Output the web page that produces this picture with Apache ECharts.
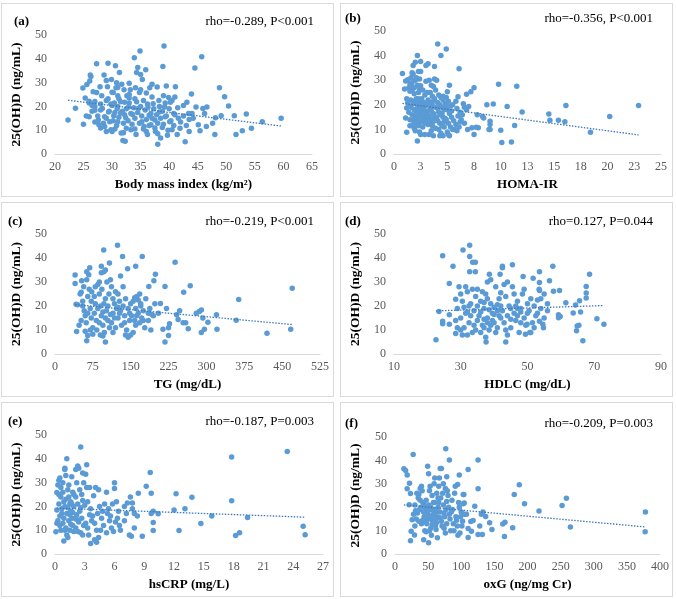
<!DOCTYPE html>
<html><head><meta charset="utf-8">
<script src="https://cdn.jsdelivr.net/npm/echarts@6/dist/echarts.min.js"></script>
<style>
html,body{margin:0;padding:0;background:#fff;width:676px;height:599px;overflow:hidden;}
.p{position:absolute;border:1px solid #d9d9d9;box-sizing:border-box;background:#fff;}
</style></head><body>
<div id="pa" class="p" style="left:1px;top:3px;width:333px;height:194px"></div>
<div id="pb" class="p" style="left:340px;top:3px;width:333px;height:194px"></div>
<div id="pc" class="p" style="left:1px;top:202px;width:333px;height:195px"></div>
<div id="pd" class="p" style="left:340px;top:202px;width:333px;height:195px"></div>
<div id="pe" class="p" style="left:1px;top:402px;width:333px;height:195px"></div>
<div id="pf" class="p" style="left:340px;top:402px;width:333px;height:195px"></div>
<script>
// ---- data: [x, 25(OH)D ng/mL] ----
var bmiPoints = [[22.3,14.3],[23.6,19.3],[25.0,12.5],[24.9,27.8],[25.3,23.6],[25.6,29.2],[26.0,22.2],[26.0,15.7],[26.3,32.6],[26.2,33.2],[26.1,30.7],[26.5,20.4],[26.7,26.2],[27.0,22.1],[27.3,37.9],[27.0,18.4],[27.3,25.9],[27.6,14.3],[27.7,12.3],[27.9,28.3],[28.2,24.5],[28.3,19.1],[28.6,33.2],[28.7,15.7],[28.7,11.6],[29.0,30.9],[29.2,28.3],[29.3,38.1],[29.3,23.2],[29.4,17.7],[29.6,13.6],[29.8,10.2],[29.9,31.3],[30.0,20.4],[30.0,9.5],[30.2,25.9],[30.3,16.1],[30.4,21.5],[30.6,37.1],[30.7,27.9],[30.8,30.0],[30.9,19.1],[31.0,13.6],[31.2,23.2],[31.3,34.3],[31.5,17.3],[31.6,8.9],[31.7,29.3],[31.9,5.7],[32.1,27.0],[32.2,21.8],[32.3,5.4],[32.4,15.3],[32.5,10.9],[32.6,24.5],[32.9,19.8],[33.0,29.7],[33.2,27.0],[33.3,10.2],[33.6,16.6],[33.9,40.5],[34.0,23.2],[34.1,27.9],[34.2,8.2],[34.3,34.3],[34.5,36.4],[34.6,19.1],[34.8,25.9],[34.9,43.3],[35.0,33.4],[35.2,13.6],[35.3,31.3],[35.5,22.5],[35.6,11.6],[35.9,35.4],[36.0,25.6],[36.2,8.2],[36.3,19.8],[36.5,16.3],[36.6,27.9],[36.8,12.3],[37.0,29.3],[37.2,21.1],[37.5,14.3],[37.6,9.5],[37.9,28.2],[38.0,4.1],[38.2,22.5],[38.3,17.7],[38.5,6.8],[38.8,11.2],[38.9,36.8],[39.1,45.4],[39.2,19.8],[39.3,15.7],[39.5,28.6],[39.7,7.9],[39.9,23.8],[40.1,13.6],[40.2,21.8],[40.5,10.2],[40.8,17.0],[41.1,28.3],[41.4,8.2],[41.6,15.0],[41.9,10.9],[42.5,20.4],[42.8,5.2],[43.1,21.8],[43.4,17.0],[43.5,9.5],[43.9,25.2],[44.2,15.0],[44.5,36.1],[44.7,19.8],[45.1,12.3],[45.4,9.8],[45.7,40.9],[45.9,19.1],[46.2,17.0],[46.5,11.6],[46.6,19.8],[47.6,12.9],[48.0,8.2],[48.1,15.3],[48.8,27.9],[49.1,16.1],[49.7,24.1],[50.4,20.2],[51.4,16.1],[51.7,8.2],[52.8,9.8],[53.5,16.8],[54.4,10.9],[56.3,13.6],[59.6,15.0],
[27.5,16],[28,18.5],[28.5,13],[29,15],[29.5,18],[29.8,21],[30.2,14],[30.5,17.5],[30.8,12],[31,20],[31.2,15.5],[31.5,22],[31.8,18],[32,13],[32.2,16.5],[32.5,19],[32.8,14],[33,21.5],[33.3,17],[33.5,12.5],[33.8,19.5],[34,15],[34.3,22],[34.5,17.5],[34.8,13],[35,20],[35.2,16],[35.5,10.5],[35.8,18.5],[36,14.5],[36.2,21],[36.5,12],[36.8,17],[37,15],[37.3,19],[37.5,11],[37.8,16.5],[38,13],[38.3,20],[38.5,15],[38.8,18],[39,12.5],[39.3,21.5],[39.5,16],[39.8,10],[40,19],[40.3,14],[40.5,22.5],[40.8,12],[41,16.5],[41.5,19.5],[42,13.5],[42.5,16],[43,12],[43.5,14.5],[44,17],[30,26],[31,28],[33,25],[35,27],[29,22.5],[28,21],[27,20],[26.5,18],[26,21.5],[25.5,16],[30.5,10.5],[32,9],[34,10.5],[36,9.5],[38,8.5],[28,11],[29,9.5],[27,13.5],[39,24.5],[41,24],[37,24],[33,23.5],[31,24.5]];
var homaPoints = [[1.0,26.4],[1.1,29.7],[1.2,18.7],[1.1,14.7],[1.2,8.9],[0.8,32.7],[1.3,30.2],[1.4,27],[1.5,25.5],[1.3,21],[1.4,19.5],[1.5,14],[1.4,17],[1.2,22.5],[1.5,28.5],[1.5,11.5],
[1.6,31],[1.7,29],[1.8,32.5],[1.8,36],[2.0,37.3],[1.7,26],[1.9,24.5],[1.6,22],[1.8,20.5],[1.9,18],[1.7,16],[2.0,15],[1.8,12],[1.9,10.5],[2.0,9.5],[1.6,27.5],[1.7,33],[2.0,30],[1.9,27],[2.0,21.5],[1.8,14],[1.6,19],
[2.2,40],[2.5,37.6],[2.2,5.3],[2.3,33.6],[2.5,33.6],[2.1,31],[2.2,28],[2.4,26.5],[2.3,25],[2.1,22.5],[2.4,21.5],[2.2,20],[2.5,19],[2.3,17.5],[2.1,16.5],[2.4,15.5],[2.2,14],[2.5,13],[2.3,11.5],[2.4,9],[2.5,8],[2.1,12.5],[2.3,22.5],[2.5,27.8],[2.2,18.5],[2.4,30.5],
[3.0,36],[3.2,36.7],[3.0,29.6],[3.3,30],[2.7,26],[2.9,24],[2.6,22.5],[2.8,21],[3.0,20],[2.7,18],[2.9,17],[3.1,16],[2.6,15],[2.8,14],[3.0,13],[3.2,12],[2.7,11],[2.9,8],[3.1,17.5],[2.8,19],[3.2,22],[3.1,25],[2.6,16.5],[3.0,15.5],[2.9,12.5],[3.2,14.5],[2.7,20.5],
[3.8,35.6],[3.5,28],[3.7,27.5],[3.4,25],[3.6,23.5],[3.8,22.5],[3.4,21],[3.6,19.5],[3.9,19],[3.5,17.5],[3.7,16.5],[3.3,15.5],[3.5,14.5],[3.8,13.5],[3.4,12.5],[3.6,11.5],[3.9,10.5],[3.5,9.5],[3.7,7.5],[3.3,8],[4.0,30],[3.8,30.5],[3.9,26],[3.4,18.5],[3.6,13],[3.9,15],[3.3,20.5],[3.7,21.5],
[4.1,44.7],[4.4,40],[4.9,42.7],[4.2,24],[4.4,23],[4.6,22],[4.1,21],[4.3,20],[4.5,19],[4.7,18],[4.2,17],[4.4,16],[4.6,15],[4.8,14.5],[4.1,13.5],[4.3,12.5],[4.5,11.5],[4.7,11],[4.2,10],[4.4,8.5],[4.6,7.5],[4.3,7.5],[4.8,20.5],[4.5,16.5],[4.0,15],[4.7,13],[4.1,18.5],[4.6,23.5],
[5.2,28],[5.0,25.3],[4.9,23],[5.1,21.5],[5.3,19.5],[5.0,18],[5.2,16.5],[5.4,15],[4.9,14],[5.1,12.5],[5.3,11],[5.0,9],[5.2,7.5],[5.5,20],[5.4,17.5],[5.6,13.5],[4.9,19.5],[5.1,8],[5.5,10],
[6.1,34.7],[6.0,23.3],[5.8,21.5],[5.9,18.5],[6.2,17],[6.0,15.5],[6.3,14],[5.8,12],[6.1,11],[5.7,10],[6.5,20.5],[6.6,19],[6.4,16],[6.8,18],[6.2,13],[6.6,12.5],[5.9,9.5],
[6.8,24.3],[7.2,25.3],[7.5,26.9],[7.8,16],[7.0,19.3],[6.9,10],[7.3,10.7],[7.5,8],[7.7,10.9],[7.9,10.7],[8.3,15.3],[8.4,14.7],[8.7,20],[8.9,10],[9.0,10],[9.0,13.3],[9.0,12],[9.3,20.4],[9.8,28.4],[10.0,9.7],[10.1,4.7],[10.6,19.3],[11.0,4.9],[11.3,11.6],[11.5,27.6],[12.0,17.1],[14.5,16.3],[14.6,13.7],[15.4,13.7],[16.0,13.1],[16.1,19.7],[18.4,8.9],[20.2,15.3],[22.9,19.7]];
var tgPoints = [[40,32.9],[40,29.4],[42,20.8],[43,9.4],[53,30.5],[96.6,43.3],[124,45.3],[52,25.8],[63,34.3],[69,35.9],[63,5.6],[65,7.7],[75,8.3],[92,36.6],[97,34.3],[92,33.9],[100,5],[108,37.9],[134,40.6],[144,35.5],[160,36.6],[173,40.6],[199,33.2],[196,30.5],[186,28.1],[218,28.1],[218,5],[238,38.2],[255,25.8],[254,13],[259,13],[264,10.6],[268,28.5],[280,17],[286,17.7],[290,18.4],[290,9],[293,15],[296,10.3],[303,13.3],[320,16.4],[321,10.3],[359,14.1],[364,22.7],[420,8.7],[467,10.3],[470,27.4],[225,11],[227,12.6],[221,19],[225,7.7],[214,10.3],[209,21.1],[205,17],[241,16.4],[244,14.4],[247,18],
[45,20.5],[50,25],[55,22],[58,18],[60,16],[62,13],[65,24],[68,27],[70,19],[72,15],[75,11],[52,14],[57,28],[63,31],[67,33],[73,26],[48,12],[60,9.5],[70,10],[55,20],[65,17],[72,22],
[78,17],[80,21],[82,14],[85,29],[88,25],[90,20],[92,16],[95,12],[98,9],[100,23],[102,18],[105,14],[108,11],[80,28],[85,19],[88,13],[93,27],[97,21],[103,30],[107,25],[83,10],[90,8],[95,17.5],[100,15],[105,20],[78,24],[110,16.5],[95,7.5],[88,30],[100,35],
[112,13],[115,17],[118,21],[120,26],[122,19],[125,15],[128,22],[130,18],[132,12],[135,20],[138,16],[140,23],[142,10],[145,19],[148,14],[115,9],[120,11],[125,25],[130,32.5],[135,28],[140,8],[145,7],[112,28],[118,15],[128,17],[138,13],[150,21],[115,23],[125,19.5],[148,17],[110,31],
[152,16],[155,22],[158,14],[160,19],[162,24],[165,17],[168,13],[170,21],[172,15],[175,18],[178,11],[180,23],[185,14],[188,19],[190,10],[195,16],[198,21],[155,9],[160,12],[165,22.5],[170,20],[175,14],[158,23.5],[185,17],[150,8],[162,16],[168,25],[192,16.5]];
var hdlcPoints = [[22.6,6],[23.5,17.7],[24.6,40.9],[24.6,13.7],[24.6,12.6],[26.6,29.4],[26.6,16.4],[26.6,12.4],[27.7,36.6],[28.5,22.8],[28.5,8.6],[30.7,43.3],[32.7,45.3],[32.7,40.6],[33.6,38.2],[34.4,38.2],[32.7,34.3],[34.4,34.3],[37.6,5],[38.6,33.2],[41.8,33.2],[42.5,35.9],[42.5,36.6],[43.5,5],[45.5,37.2],[48.7,32.3],[51.7,31.6],[53.6,34.3],[57.6,36.6],[56.6,30.5],[59.6,26.5],[61.5,21.4],[53.6,29.8],[53.6,26.5],[57.8,26.2],[68.6,33.2],[67.6,28.1],[67.6,25.4],[67.6,23.4],[63.7,17.1],[64.4,20.4],[65.6,22.2],[64.9,11.7],[65.4,12],[64.7,9.7],[66.6,5.6],[65.9,17.5],[70.8,14.7],[72.9,12.4],[59.3,16.4],[59.8,15.7],[59.3,15.1],[54.8,11],[54.6,12.4],[53.6,13.7],[50.7,9],[49.4,8.3],[49.9,12.4],
[29,19],[30,15],[30.5,22],[31,11],[31.5,17],[32,26],[32.5,13],[33,21],[33.5,9],[34,18],[34.5,24],[35,14],[29.5,28],[30,10],[31,19.5],[32,8],[33,16],[34,12],[35,27],[28.5,14],[30,25],[31.5,28],[32.5,20],[33.5,27],[34.5,10],[35,20],[29,11],[30.5,8],[32,17.5],
[35.5,16],[36,22],[36.5,12],[37,19],[37.5,25],[38,15],[38.5,10],[39,21],[39.5,17],[40,13],[40.5,28],[41,18],[41.5,23],[42,15],[36,9],[37,14.5],[38,30],[39,31],[40,19.5],[41,11],[42,20],[36.5,26],[37.5,7],[38.5,18.5],[39.5,14],[40.5,9],[41.5,16],[42,25.5],[36,17.5],[37,11],[38,23],[39,12],[40,16.5],[41,20.5],[37,21.5],[38,13],
[42.5,18],[43,13],[43.5,24],[44,16],[44.5,20],[45,11],[45.5,28],[46,17],[46.5,14],[47,22],[47.5,9],[48,19],[48.5,25],[49,15],[49.5,12],[50,21],[43,29],[44,8],[45,19],[46,25],[47,16],[48,17.5],[49,27],[43.5,10],[46.5,20],[48,13],[50,17],[44,30],[47,19],[45,14.5],
[50.5,18],[51,23],[51.5,13],[52,20],[52.5,16],[53,22.5],[53.5,27],[54,19],[55,15],[56,21],[51,9],[52,11],[53,17],[54,23],[55,25],[56,18]];
var crpPoints = [[0.2,18.5],[0.3,14],[0.4,21],[0.5,16],[0.3,29],[0.4,31],[0.5,32],[0.6,24],[0.7,19],[0.8,13],[0.9,22],[1.0,10],[0.6,28],[0.8,26],[0.5,12],[0.7,17],[0.9,15],[1.0,20],[0.4,25],[0.6,10],[0.9,5.5],[1.0,35.5],[1.0,36],[0.8,30],[0.2,13],
[1.1,33],[1.2,40],[1.3,27],[1.4,24],[1.5,21],[1.6,18],[1.7,15],[1.8,12],[1.9,9.5],[1.2,17],[1.4,14],[1.6,22],[1.8,26],[1.1,11],[1.3,19.5],[1.5,16.5],[1.7,32.5],[1.9,20],[1.2,8],[1.4,29],[1.6,12.5],[1.8,17.5],[1.1,23],[1.5,10],[1.9,25],[1.3,7],[1.7,21],[2.0,15],
[2.1,35.5],[2.3,37],[2.4,36],[2.2,30],[2.5,27],[2.1,24],[2.3,21],[2.5,18],[2.7,15],[2.9,12],[2.2,16.5],[2.4,13.5],[2.6,19.5],[2.8,22.5],[2.6,9],[2.8,34],[2.9,30],[2.1,11],[2.7,25],[2.3,9.5],[2.6,45],[3.0,20.5],[2.2,14.5],[2.8,8],
[3.2,37.5],[3.1,33.5],[3.2,28],[3.5,28],[3.3,22],[3.6,19],[3.8,16],[4.0,13],[4.2,10],[3.4,8],[3.6,4.5],[4.0,6],[4.2,5],[3.9,24.5],[4.1,28],[4.4,27],[4.5,20],[4.3,17],[4.7,15],[4.9,12],[3.3,11],[3.7,14],[4.6,10],[3.5,16.5],[4.4,7],[4.8,18],[3.1,13],
[5.2,26],[5.0,21],[5.3,17],[5.5,14],[5.7,11],[5.2,9],[5.8,21],[6.0,30],[6.0,27.5],[6.2,22],[6.3,15],[6.5,12],[6.6,10],[5.4,19],[6.1,13.5],[5.6,16],[6.4,18],[5.9,9.5],[7.0,20],[7.2,17],[7.0,14],[7.3,21.5],[7.5,8],[7.6,24],[7.8,21.5],[7.8,19],[7.7,7.5],[8.0,11],[8.3,16],[8.8,7.5],[8.0,17],
[9.6,34.3],[9.2,28.5],[9.7,25.5],[8.4,25.5],[9.9,18],[9.9,13.3],[9.9,9.9],[9.7,17],[10.4,16.9],[12.2,25.3],[13.8,23.9],[12.0,18.5],[13.1,19],[12.5,9.9],[14.7,12.8],[15.8,16],[17.8,40.8],[17.8,22.4],[18.2,7.8],[18.6,9],[19.4,15.4],[23.4,43.1],[25.0,11.7],[25.2,8.1],[0.1,9.4],[0.2,25.9]];
var oxgPoints = [[13.4,36.4],[16,35.7],[18.4,33.8],[21.9,30.2],[18.4,27.9],[23.4,25.9],[21.4,21.1],[24.4,9.8],[23.4,5.7],[27.4,42.5],[25.9,14.7],[29.4,8.2],[43.3,6.1],[49.3,37.5],[50.7,34.3],[50.7,4.8],[76.6,45],[82.1,40.2],[68.2,36.5],[78.1,33],[97,33.8],[110.4,36.1],[125.4,40.2],[125.4,27.9],[94.5,29.7],[187.6,29.6],[180,25.5],[195.5,21.5],[217.4,18.4],[252.2,20.8],[258.7,23.8],[264.7,11.6],[177.6,11.3],[162.7,12.9],[166,13.6],[165.2,7.5],[146.3,10.5],[142.8,13.4],[136.8,16.1],[132.8,18],[130.3,17],[131.8,8.4],[125.4,8.4],[127.9,12],[120.4,20.4],[117.9,14.3],[114.4,13.9],[115.4,9.8],[110.4,7.1],[110.4,10.9],[107.9,17],[104.5,21.8],[103,25.5],[378,18],[377.6,9.5],
[28,17],[30,21],[32,15],[35,24],[37,19],[38,28],[40,13],[42,22],[44,16],[30,12],[33,26],[36,14],[39,20],[41,27],[43,18],[45,10],[34,17.5],[38,23],[40,29],[42,14.5],[44,21],[36,25.5],[31,18.5],[45,15],
[46,19],[47,23],[48,13],[50,17],[51,21],[52,27],[53,15],[54,11],[55,19],[56,25],[57,14],[58,17],[59,30],[60,22],[61,12],[62,18],[63,26],[64,16],[65,20],[47,9.5],[49,15],[52,10],[55,8],[58,22],[60,32.5],[62,10.5],[64,7],[66,29],[50,18.5],[54,20],[57,16],[61,15],[63,13.5],[48,20],[56,12.5],[59,19],[65,24],[53,29],[46,14],[51,16],
[66,22],[68,18],[70,14],[72,26],[73,21],[74,11],[75,16],[76,28],[77,19],[78,13],[80,25],[82,17],[84,10],[67,32.5],[69,24],[71,12],[79,27],[81,20],[83,15],[85,18],[70,36.5],[73,30],[76,9],[78,22.5],[68,15.5],[74,17.5],
[87,19],[88,13],[90,26],[92,16],[94,12],[96,22],[98,9],[100,18],[102,14],[104,25.5],[86,23],[89,10],[91,29],[93,14.5],[95,8],[97,20],[99,16],[101,12],[103,21.5],[105,17]];

// trend line end points
var trendA = [[22.3,22.6],[59.6,11.8]];
var trendB = [[0.8,20.6],[22.9,7.8]];
var trendC = [[40,20.6],[470,12.3]];
var trendD = [[22.6,18.0],[72.9,20.2]];
var trendE = [[0.2,19.3],[25.2,15.5]];
var trendF = [[13.4,21.0],[378,11.6]];

var panelLabels = ['(a)','(b)','(c)','(d)','(e)','(f)'];
var statTexts = ['rho=-0.289, P<0.001','rho=-0.356, P<0.001','rho=-0.219, P<0.001','rho=0.127, P=0.044','rho=-0.187, P=0.003','rho=-0.209, P=0.003'];
var xNames = ['Body mass index (kg/m²)','HOMA-IR','TG (mg/dL)','HDLC (mg/dL)','hsCRP (mg/L)','oxG (ng/mg Cr)'];
var yName = '25(OH)D (ng/mL)';
var xMins = [20,0,0,10,0,0];
var xMaxs = [65,25,525,90,27,400];
var xSteps = [5,2.5,75,20,3,50];
var yMin = 0, yMax = 50, yStep = 10;

var FONT = '"Liberation Serif","Times New Roman",serif';
var panels = [
  {id:'pa', pts:bmiPoints, tr:trendA, grid:{left:48,top:31,width:262,height:123}, lab:[12,11], statR:19, statT:11, yGap:27},
  {id:'pb', pts:homaPoints, tr:trendB, grid:{left:50,top:27,width:270,height:125}, lab:[4,8], statR:19, statT:8, yGap:30},
  {id:'pc', pts:tgPoints, tr:trendC, grid:{left:48,top:31,width:270,height:124}, lab:[6,12], statR:19, statT:12, yGap:27},
  {id:'pd', pts:hdlcPoints, tr:trendD, grid:{left:50,top:31,width:270,height:124}, lab:[4,12], statR:19, statT:12, yGap:30},
  {id:'pe', pts:crpPoints, tr:trendE, grid:{left:51,top:32,width:270,height:124}, lab:[6,12], statR:19, statT:12, yGap:30},
  {id:'pf', pts:oxgPoints, tr:trendF, grid:{left:52,top:34,width:268,height:122}, lab:[4,14], statR:19, statT:14, yGap:32}
];

panels.forEach(function(p, i){
  var ch = echarts.init(document.getElementById(p.id), null, {renderer:'canvas'});
  ch.setOption({
    animation:false,
    backgroundColor:'#fff',
    title:[
      {text:panelLabels[i], left:p.lab[0], top:p.lab[1], padding:0, textStyle:{fontFamily:FONT, fontSize:13, fontWeight:'bold', color:'#000'}},
      {text:statTexts[i], right:p.statR, top:p.statT, padding:0, textStyle:{fontFamily:FONT, fontSize:13, fontWeight:'normal', color:'#000'}}
    ],
    grid:p.grid,
    xAxis:{
      type:'value', min:xMins[i], max:xMaxs[i], interval:xSteps[i],
      name:xNames[i], nameLocation:'middle', nameGap:19,
      nameTextStyle:{fontFamily:FONT, fontSize:13, fontWeight:'bold', color:'#000'},
      axisLine:{show:true, lineStyle:{color:'#d9d9d9', width:1}},
      axisTick:{show:false}, splitLine:{show:false},
      axisLabel:{fontFamily:FONT, fontSize:12, color:'#595959', margin:7,
        formatter:function(v){ return String(Math.round(v)); }}
    },
    yAxis:{
      type:'value', min:yMin, max:yMax, interval:yStep,
      name:yName, nameLocation:'middle', nameGap:p.yGap, nameRotate:90,
      nameTextStyle:{fontFamily:FONT, fontSize:13.5, fontWeight:'bold', color:'#000'},
      axisLine:{show:false}, axisTick:{show:false}, splitLine:{show:false},
      axisLabel:{fontFamily:FONT, fontSize:12, color:'#595959', margin:8}
    },
    series:[
      {type:'scatter', data:p.pts, symbolSize:5.5, itemStyle:{color:'#5b9bd5', opacity:1}, z:2},
      {type:'line', data:p.tr, showSymbol:false, symbol:'none', z:3,
       lineStyle:{type:[1.5,1.5], width:1.3, color:'#3d78b8'}}
    ]
  });
});
</script>
</body></html>
